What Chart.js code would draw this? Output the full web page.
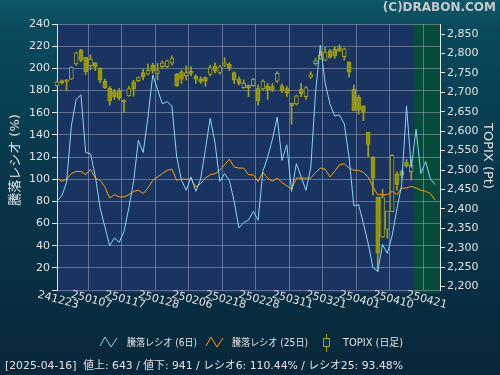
<!DOCTYPE html>
<html>
<head>
<meta charset="utf-8">
<script src="https://cdn.jsdelivr.net/npm/chart.js@4"></script>
<style>
  html, body { margin: 0; padding: 0; background: #082c3e; }
  canvas { display: block; }
</style>
</head>
<body>
<canvas id="chart" width="500" height="375"></canvas>
<script>
// 日付 (yymmdd)
var dates = ['241223','241224','241225','241226','241227','241230',
  '250106','250107','250108','250109','250110','250114','250115','250116','250117','250120','250121','250122','250123','250124','250127','250128','250129','250130','250131',
  '250203','250204','250205','250206','250207','250210','250212','250213','250214','250217','250218','250219','250220','250221','250225','250226','250227','250228',
  '250303','250304','250305','250306','250307','250310','250311','250312','250313','250314','250317','250318','250319','250321','250324','250325','250326','250327','250328','250331',
  '250401','250402','250403','250404','250407','250408','250409','250410','250411','250414','250415','250416','250417','250418','250421','250422','250423','250424'];

// 騰落レシオ (6日)
var ratio6 = [80, 85, 97, 148, 172, 176, 124, 123, 103, 74, 57, 40, 47, 43, 53, 74, 98, 135, 124, 156,
  194, 181, 168, 170, 166, 120, 99, 90, 102, 89, 100, 127, 155, 133, 98, 105, 99, 80, 56, 61,
  63, 71, 63, 107, 120, 136, 156, 117, 131, 89, 114, 102, 90, 110, 178, 221, 187, 168, 157, 158,
  150, 120, 76, 77, 60, 42, 20, 17, 41, 33, 49, 73, 95, 166, 110.4, 145, 105, 116, 100, 95];

// 騰落レシオ (25日)
var ratio25 = [101, 98, 100, 105, 107, 107, 104, 109, 101, 99, 93, 83, 86, 84, 84, 86, 89, 90, 87, 92,
  99, 102, 105, 108, 109, 99, 100, 100, 100, 93, 96, 101, 104, 105, 108, 113, 118, 111, 110, 110,
  104, 104, 98, 106, 101, 98, 101, 97, 94, 91, 101, 101, 101, 101, 106, 110, 109, 102, 107, 113,
  114, 110, 108, 108, 106, 102, 93, 86, 86, 86, 89, 86, 92, 92, 93.5, 92, 90, 89, 87, 81];

// TOPIX 日足
var topixOpen  = [2717,2730,2732,2734,2773,2809,2790,2769,2776,2762,2729,2711,2702,2703,2680,2691,2727,2730,2751,2747,
  2770,2749,2766,2766,2775,2747,2753,2743,2755,2742,2735,2738,2746,2768,2751,2770,2773,2751,2734,2712,
  2719,2717,2710,2709,2717,2715,2729,2717,2710,2672,2670,2708,2689,2739,2774,2786,2783,2807,2811,2815,
  2792,2777,2708,2687,2665,2597,2534,2430,2328,2347,2393,2489,2496,2519,2496];
var topixHigh  = [2729,2732,2733,2766,2804,2811,2790,2796,2777,2763,2734,2715,2708,2710,2681,2715,2731,2740,2759,2773,
  2775,2775,2781,2783,2794,2749,2758,2768,2766,2745,2740,2740,2770,2776,2770,2789,2776,2753,2740,2732,
  2719,2736,2719,2732,2723,2723,2753,2721,2715,2672,2693,2723,2715,2753,2788,2806,2816,2811,2818,2822,
  2814,2779,2719,2693,2665,2597,2534,2430,2450,2394,2540,2495,2500,2527,2527];
var topixLow   = [2715,2721,2704,2733,2770,2779,2746,2758,2756,2725,2710,2667,2682,2680,2648,2690,2690,2727,2732,2745,
  2749,2732,2762,2764,2770,2715,2723,2732,2742,2723,2723,2716,2742,2750,2747,2766,2756,2723,2719,2710,
  2689,2715,2667,2706,2682,2702,2725,2699,2689,2618,2667,2689,2682,2736,2770,2785,2781,2788,2788,2805,
  2783,2740,2653,2644,2627,2534,2436,2238,2326,2324,2392,2448,2480,2507,2474];
var topixClose = [2727,2725,2728,2765,2802,2782,2753,2785,2766,2732,2712,2678,2688,2686,2676,2710,2709,2738,2740,2757,
  2756,2756,2776,2781,2788,2717,2734,2751,2749,2734,2727,2729,2764,2755,2766,2776,2762,2732,2723,2723,
  2712,2734,2678,2729,2706,2706,2749,2704,2699,2666,2691,2696,2712,2746,2781,2796,2804,2790,2794,2807,
  2812,2752,2653,2655,2648,2566,2479,2286,2430,2394,2538,2463,2486,2510,2513];

var footerText = '[2025-04-16]  値上: 643 / 値下: 941 / レシオ6: 110.44% / レシオ25: 93.48%';

var olive = '#a3a312';
var oliveFill = '#939300';
var plotBlue = '#1a3461';
var plotGreen = '#064a3a';
var gridColor = 'rgba(190,200,225,0.42)';
var textColor = '#e2e2e2';
var uiFont = "'DejaVu Sans', 'Noto Sans CJK JP', sans-serif";

var wicks = topixHigh.map(function (h, i) { return [topixLow[i], h]; });
var bodies = topixOpen.map(function (o, i) {
  var c = topixClose[i];
  if (Math.abs(c - o) < 1) return [o - 0.6, o + 0.6];
  return [Math.min(o, c), Math.max(o, c)];
});
var bodyFill = topixOpen.map(function (o, i) { return topixClose[i] > o ? plotBlue : oliveFill; });

// 背景・凡例・ラベル
var decor = {
  id: 'decor',
  beforeDraw: function (chart) {
    var ctx = chart.ctx, a = chart.chartArea, x = chart.scales.x;
    var g = ctx.createLinearGradient(0, 0, 0, 375);
    g.addColorStop(0, '#0d5869');
    g.addColorStop(0.07, '#0a4a5c');
    g.addColorStop(0.45, '#08374b');
    g.addColorStop(1, '#08273a');
    ctx.save();
    ctx.fillStyle = g;
    ctx.fillRect(0, 0, 500, 375);
    var split = x.getPixelForValue(74.5);
    ctx.fillStyle = plotBlue;
    ctx.fillRect(a.left, a.top, split - a.left, a.bottom - a.top + 3);
    ctx.fillStyle = plotGreen;
    ctx.fillRect(split, a.top, a.right - split, a.bottom - a.top + 3);
    ctx.restore();
  },
  afterDraw: function (chart) {
    var ctx = chart.ctx, x = chart.scales.x;
    ctx.save();
    ctx.fillStyle = textColor;
    ctx.font = '11px ' + uiFont;
    ctx.textAlign = 'center';
    ctx.textBaseline = 'middle';
    for (var i = 0; i < dates.length; i += 7) {
      ctx.save();
      ctx.translate(x.getPixelForValue(i) + 1, 300);
      ctx.rotate(0.27);
      ctx.fillText(dates[i], 0, 0);
      ctx.restore();
    }
    // 軸タイトル
    ctx.font = '13px ' + uiFont;
    ctx.save();
    ctx.translate(16, 160);
    ctx.rotate(-Math.PI / 2);
    ctx.fillText('騰落レシオ (%)', 0, 0);
    ctx.restore();
    ctx.save();
    ctx.translate(487, 156);
    ctx.rotate(Math.PI / 2);
    ctx.fillText('TOPIX (Pt)', 0, 0);
    ctx.restore();
    // コピーライト
    ctx.font = 'bold 12px ' + uiFont;
    ctx.textAlign = 'right';
    ctx.fillStyle = '#c9c9c9';
    ctx.fillText('(C)DRABON.COM', 496, 8);
    // 凡例
    function zig(x0, color) {
      ctx.beginPath();
      ctx.moveTo(x0, 346); ctx.lineTo(x0 + 5, 337); ctx.lineTo(x0 + 11, 347); ctx.lineTo(x0 + 17, 338);
      ctx.strokeStyle = color; ctx.lineWidth = 1; ctx.stroke();
    }
    ctx.font = '10px ' + uiFont;
    ctx.textAlign = 'left';
    ctx.fillStyle = textColor;
    zig(100, '#8ad4f4');
    ctx.fillText('騰落レシオ (6日)', 127, 343, 70);
    zig(206, '#ffa200');
    ctx.fillText('騰落レシオ (25日)', 232, 343, 76);
    ctx.fillStyle = olive;
    ctx.fillRect(326, 334, 1, 18);
    ctx.fillStyle = '#0b3346';
    ctx.fillRect(323.5, 338.5, 6, 8);
    ctx.strokeStyle = olive;
    ctx.strokeRect(323.5, 338.5, 6, 8);
    ctx.fillStyle = textColor;
    ctx.fillText('TOPIX (日足)', 343, 343, 60);
    // フッター
    ctx.font = '11px ' + uiFont;
    ctx.fillText(footerText, 5, 366, 398);
    ctx.restore();
  }
};

var ctx = document.getElementById('chart').getContext('2d');
var chart = new Chart(ctx, {
  data: {
    labels: dates,
    datasets: [
      { type: 'line', label: '騰落レシオ (6日)', data: ratio6, yAxisID: 'y', borderColor: '#8ad4f4', borderWidth: 1, pointRadius: 0, tension: 0, order: 1 },
      { type: 'line', label: '騰落レシオ (25日)', data: ratio25, yAxisID: 'y', borderColor: '#ffa200', borderWidth: 1, pointRadius: 0, tension: 0, order: 2 },
      { type: 'bar', label: 'TOPIX wick', data: wicks, yAxisID: 'y1', backgroundColor: olive, barThickness: 1, grouped: false, clip: false, order: 4 },
      { type: 'bar', label: 'TOPIX (日足)', data: bodies, yAxisID: 'y1', backgroundColor: bodyFill, borderColor: olive, borderWidth: 1, borderSkipped: false, barThickness: 4, grouped: false, clip: false, order: 3 }
    ]
  },
  options: {
    responsive: false,
    animation: false,
    layout: { padding: { top: 24, left: 0, right: 0, bottom: 0 } },
    plugins: { legend: { display: false }, tooltip: { enabled: false } },
    scales: {
      x: {
        offset: false,
        ticks: { display: false, autoSkip: false },
        grid: { color: function (c) { return c.index % 7 === 0 ? gridColor : 'rgba(0,0,0,0)'; }, drawTicks: false },
        border: { display: false },
        afterFit: function (s) { s.height = 85; }
      },
      y: {
        position: 'left',
        min: 0, max: 240,
        ticks: { stepSize: 20, color: textColor, font: { size: 11, family: uiFont }, padding: 2,
          callback: function (v) { return v === 0 ? '' : v; } },
        grid: { color: gridColor, tickColor: '#e6e6e6', tickLength: 5 },
        border: { color: '#e6e6e6' },
        afterFit: function (s) { s.width = 57; }
      },
      y1: {
        position: 'right',
        min: 2191, max: 2876,
        ticks: { stepSize: 50, includeBounds: false, color: textColor, font: { size: 11, family: uiFont }, padding: 2,
          callback: function (v) { return v.toLocaleString('en-US'); } },
        grid: { drawOnChartArea: false, tickColor: '#e6e6e6', tickLength: 5 },
        border: { color: '#e6e6e6' },
        afterFit: function (s) { s.width = 60; }
      }
    }
  },
  plugins: [decor]
});
</script>
</body>
</html>
